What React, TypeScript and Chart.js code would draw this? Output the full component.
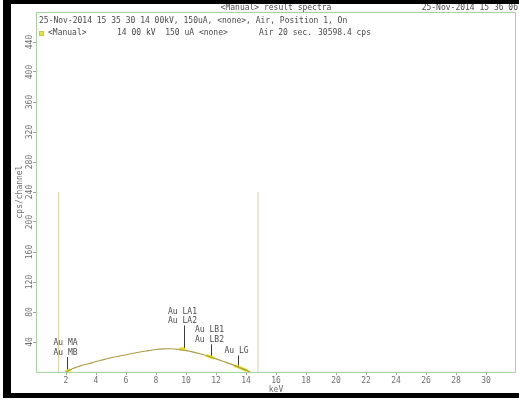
import React, { useEffect, useRef } from "react";
import { Chart, registerables } from "chart.js";

Chart.register(...registerables);

// ---- data ----
const spectrumKeV = [2.0, 2.2, 2.5, 2.8, 3.0, 3.5, 4.0, 4.5, 5.0, 5.5, 6.0, 6.5, 7.0, 7.5, 8.0, 8.5, 9.0, 9.5, 10.0, 10.5, 11.0, 11.5, 12.0, 12.5, 13.0, 13.5, 14.0, 14.3];
const spectrumCps = [0, 2, 5, 7, 8.5, 11, 14, 16.5, 19, 21, 23, 25, 27, 28.5, 30, 30.8, 31, 30.2, 28.5, 26.5, 24, 21, 17.5, 14, 10.5, 6.5, 2.5, 0];

const fit1KeV = [1.95, 2.1, 2.3];
const fit1Cps = [0, 1.5, 3];
const fit2KeV = [9.55, 9.75, 9.95];
const fit2Cps = [30.6, 31.2, 29.6];
const fit3KeV = [11.35, 11.6, 11.9];
const fit3Cps = [22, 20.3, 18.2];
const fit4KeV = [13.2, 13.5, 13.8, 14.1];
const fit4Cps = [8.5, 6.5, 4, 1.8];

const roiKeV = [1.5, 14.8];
const roiTopCps = 240;

const peakKeV = [2.1, 9.9, 11.7, 13.5];
const peakTopCps = [20, 62, 37, 22];
const peakBaseCps = [2, 31, 20, 7];
const peakLabelUpper = ["Au MA", "Au LA1", "Au LB1", ""];
const peakLabelLower = ["Au MB", "Au LA2", "Au LB2", "Au LG"];

const xTicks = [2, 4, 6, 8, 10, 12, 14, 16, 18, 20, 22, 24, 26, 28, 30];
const yTicks = [40, 80, 120, 160, 200, 240, 280, 320, 360, 400, 440];

const headerTitle = "<Manual> result spectra";
const headerTime = "25-Nov-2014 15 36 06";
const infoLine = "25-Nov-2014 15 35 30 14 00kV, 150uA, <none>, Air, Position 1, On";
const legendName = "<Manual>";
const legendCond = "14 00 kV  150 uA <none>";
const legendTime = "Air 20 sec.";
const legendRate = "30598.4 cps";

// ---- styles ----
const MONO = '"DejaVu Sans Mono", monospace';
const FRAME = "#a9d3a2";
const TEXT = "#4a4a4a";
const TICKTEXT = "#6e6e6e";

const pts = (xs: number[], ys: number[]) => xs.map((x, i) => ({ x, y: ys[i] }));

export default function App() {
  const ref = useRef<HTMLCanvasElement | null>(null);

  useEffect(() => {
    if (!ref.current) return;

    const datasets: any[] = [];
    roiKeV.forEach((k) => {
      datasets.push({
        data: [{ x: k, y: 0 }, { x: k, y: roiTopCps }],
        showLine: true,
        borderColor: "#d8d2a6",
        borderWidth: 1,
        pointRadius: 0,
      });
    });
    datasets.push({
      data: pts(spectrumKeV, spectrumCps),
      showLine: true,
      borderColor: "#ad9d48",
      borderWidth: 1.2,
      pointRadius: 0,
      cubicInterpolationMode: "monotone",
    });
    [
      [fit1KeV, fit1Cps],
      [fit2KeV, fit2Cps],
      [fit3KeV, fit3Cps],
      [fit4KeV, fit4Cps],
    ].forEach(([xs, ys]) => {
      datasets.push({
        data: pts(xs, ys),
        showLine: true,
        borderColor: "#e8e61e",
        borderWidth: 3,
        pointRadius: 0,
        cubicInterpolationMode: "monotone",
      });
    });
    peakKeV.forEach((k, i) => {
      datasets.push({
        data: [{ x: k, y: peakBaseCps[i] }, { x: k, y: peakTopCps[i] }],
        showLine: true,
        borderColor: "#3a3a3a",
        borderWidth: 1,
        pointRadius: 0,
      });
    });

    const framePlugin = {
      id: "frame",
      beforeDatasetsDraw(chart: any) {
        const { ctx, chartArea: a } = chart;
        ctx.save();
        ctx.strokeStyle = FRAME;
        ctx.lineWidth = 1;
        ctx.strokeRect(a.left + 0.5, a.top + 0.5, a.right - a.left - 1, a.bottom - a.top);
        ctx.restore();
      },
    };

    const peakLabelPlugin = {
      id: "peakLabels",
      afterDatasetsDraw(chart: any) {
        const { ctx, scales } = chart;
        ctx.save();
        ctx.font = `8px ${MONO}`;
        ctx.fillStyle = TEXT;
        ctx.textAlign = "center";
        ctx.textBaseline = "middle";
        peakKeV.forEach((k, i) => {
          const x = scales.x.getPixelForValue(k) - 2;
          const yTop = scales.y.getPixelForValue(peakTopCps[i]);
          if (peakLabelLower[i]) ctx.fillText(peakLabelLower[i], x, yTop - 4.5);
          if (peakLabelUpper[i]) ctx.fillText(peakLabelUpper[i], x, yTop - 14);
        });
        ctx.restore();
      },
    };

    const headerPlugin = {
      id: "header",
      afterDraw(chart: any) {
        const { ctx, chartArea: a } = chart;
        ctx.save();
        ctx.font = `8px ${MONO}`;
        ctx.fillStyle = TEXT;
        ctx.textBaseline = "middle";
        ctx.textAlign = "center";
        ctx.fillText(headerTitle, (a.left + a.right) / 2, 8);
        ctx.textAlign = "right";
        ctx.fillText(headerTime, 518, 8);
        ctx.textAlign = "left";
        ctx.fillText(infoLine, 39, 21);
        ctx.fillStyle = "#e6e62a";
        ctx.fillRect(39, 31, 5, 5);
        ctx.strokeStyle = "#c8c840";
        ctx.strokeRect(39.5, 31.5, 4, 4);
        ctx.fillStyle = TEXT;
        ctx.fillText(legendName, 48, 33);
        ctx.fillText(legendCond, 117, 33);
        ctx.fillText(legendTime, 259, 33);
        ctx.fillText(legendRate, 318, 33);
        ctx.restore();
      },
    };

    const chart = new Chart(ref.current, {
      type: "scatter",
      data: { datasets },
      options: {
        animation: false,
        responsive: false,
        layout: { padding: { left: 0, right: 3, top: 12, bottom: 0 } },
        plugins: { legend: { display: false }, tooltip: { enabled: false } },
        scales: {
          x: {
            type: "linear",
            min: 0,
            max: 32,
            afterBuildTicks: (axis: any) => {
              axis.ticks = xTicks.map((v) => ({ value: v }));
            },
            afterFit: (axis: any) => {
              axis.height = 29;
            },
            ticks: {
              autoSkip: false,
              maxRotation: 0,
              minRotation: 0,
              padding: 1,
              color: TICKTEXT,
              font: { family: MONO, size: 8 },
            },
            grid: { drawOnChartArea: false, drawTicks: true, tickLength: 3, color: "#9aa89a" },
            border: { display: false },
            title: {
              display: true,
              text: "keV",
              color: TICKTEXT,
              font: { family: MONO, size: 8 },
              padding: { top: 0, bottom: 6 },
            },
          },
          y: {
            type: "linear",
            min: 0,
            max: 480,
            afterBuildTicks: (axis: any) => {
              axis.ticks = yTicks.map((v) => ({ value: v }));
            },
            afterFit: (axis: any) => {
              axis.width = 36;
            },
            ticks: {
              autoSkip: false,
              minRotation: 90,
              maxRotation: 90,
              crossAlign: "center",
              padding: -4,
              color: TICKTEXT,
              font: { family: MONO, size: 8 },
            },
            grid: { drawOnChartArea: false, drawTicks: true, tickLength: 3, color: "#9aa89a" },
            border: { display: false },
            title: {
              display: true,
              text: "cps/channel",
              color: TICKTEXT,
              font: { family: MONO, size: 8 },
              padding: { top: 15, bottom: 0 },
            },
          },
        },
      } as any,
      plugins: [framePlugin, peakLabelPlugin, headerPlugin],
    });

    return () => chart.destroy();
  }, []);

  return (
    <div style={{ position: "absolute", left: 0, top: 0, width: 519, height: 401, background: "#fff", overflow: "hidden" }}>
      <canvas ref={ref} width={519} height={401} style={{ position: "absolute", left: 0, top: 0, width: 519, height: 401 }} />
      <div style={{ position: "absolute", left: 3, top: 0, width: 516, height: 4, background: "#000" }} />
      <div style={{ position: "absolute", left: 3, top: 0, width: 8, height: 398, background: "#000" }} />
      <div style={{ position: "absolute", left: 3, top: 393, width: 516, height: 5, background: "#000" }} />
    </div>
  );
}
